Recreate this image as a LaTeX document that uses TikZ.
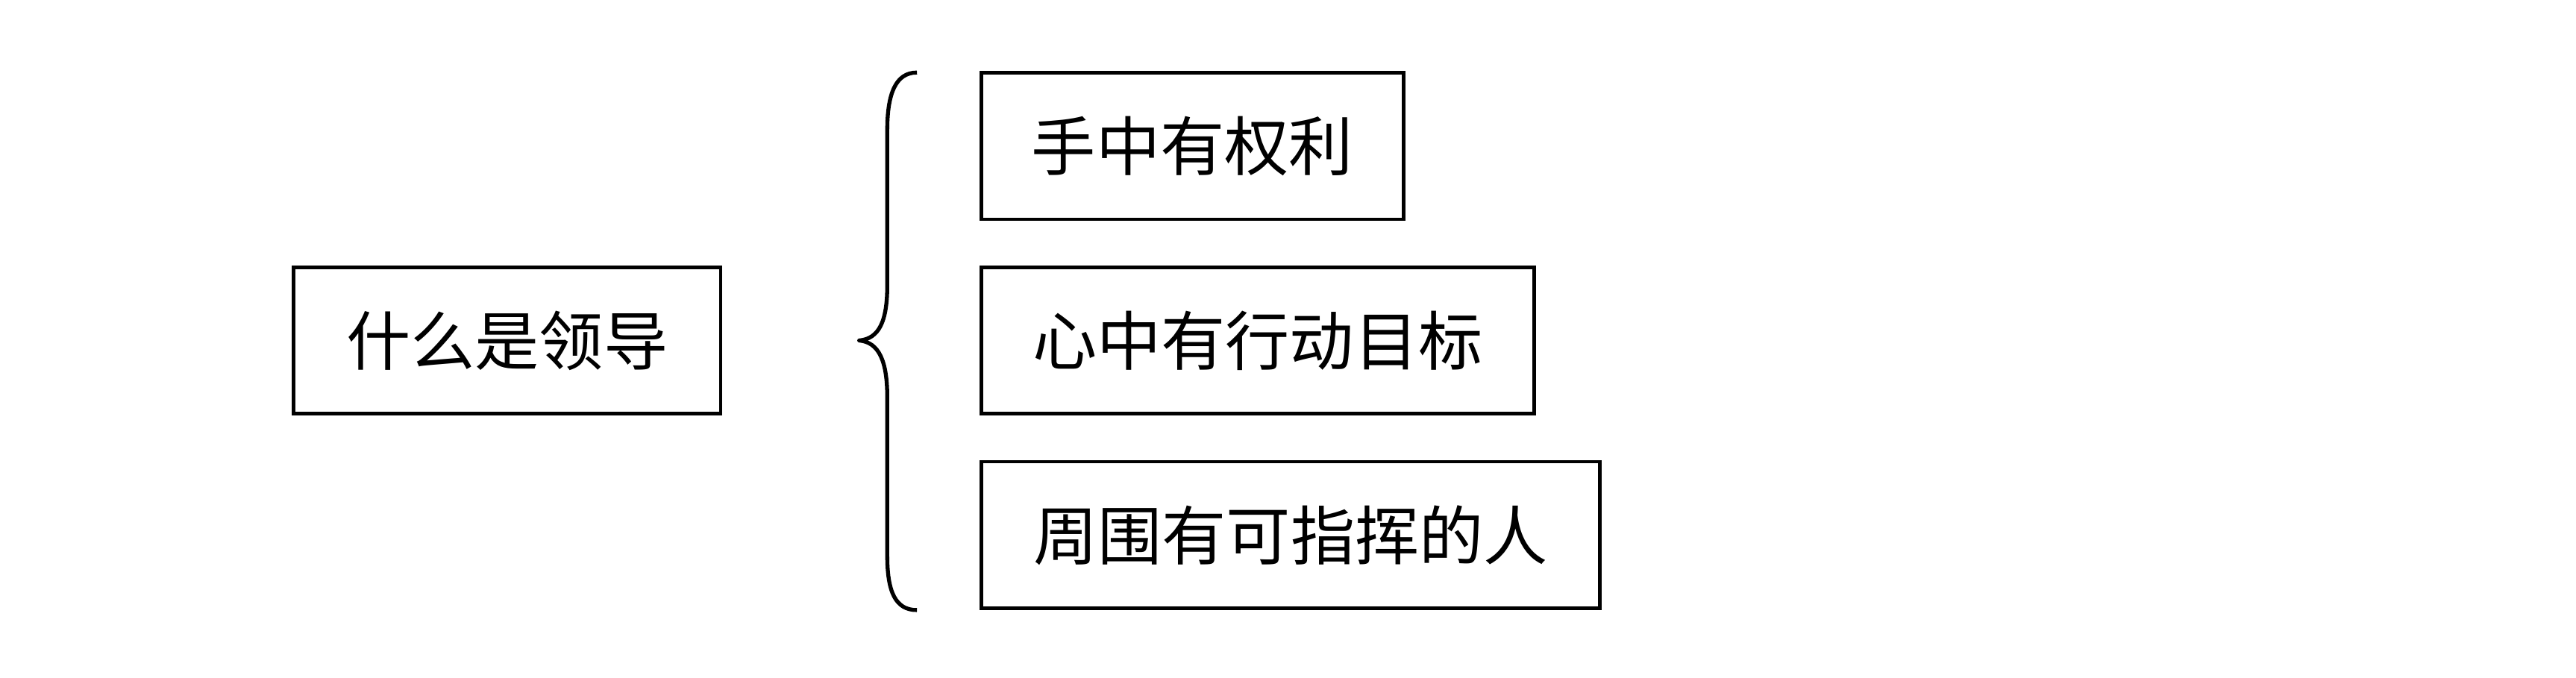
\documentclass[tikz,border=0pt]{standalone}
\usepackage{fontspec}
\newfontfamily\cjk{Noto Sans CJK SC}
\begin{document}
\begin{tikzpicture}[x=1pt,y=1pt,
  box/.style={draw=black, line width=1.1pt, minimum height=44.5pt, inner sep=0pt,
    font=\cjk\fontsize{19.5pt}{22pt}\selectfont, anchor=west},
  bracepath/.style={draw=black, line width=1.2pt, line join=round}]
\useasboundingbox (0,0) rectangle (781,205.5);
\node[box, minimum width=129.5pt, anchor=center] (q) at (153.75,102.25) {什么是领导};
\node[box, minimum width=128pt] (a) at (297,161.25) {手中有权利};
\node[box, minimum width=167.5pt] (b) at (297,102.25) {心中有行动目标};
\node[box, minimum width=187.5pt] (c) at (297,43.25) {周围有可指挥的人};
\coordinate (btop) at (278,183.5);
\coordinate (btip) at (260.5,102.25);
\coordinate (bbot) at (278,20.5);
\draw[bracepath] (btop) .. controls (271.5,183.5) and (269,177) .. (269,166)
  -- (269,119) .. controls (269,108) and (266.5,102.8) .. (btip)
  .. controls (266.5,101.7) and (269,96) .. (269,85)
  -- (269,37) .. controls (269,26) and (271.5,20.5) .. (bbot);
\end{tikzpicture}
\end{document}
